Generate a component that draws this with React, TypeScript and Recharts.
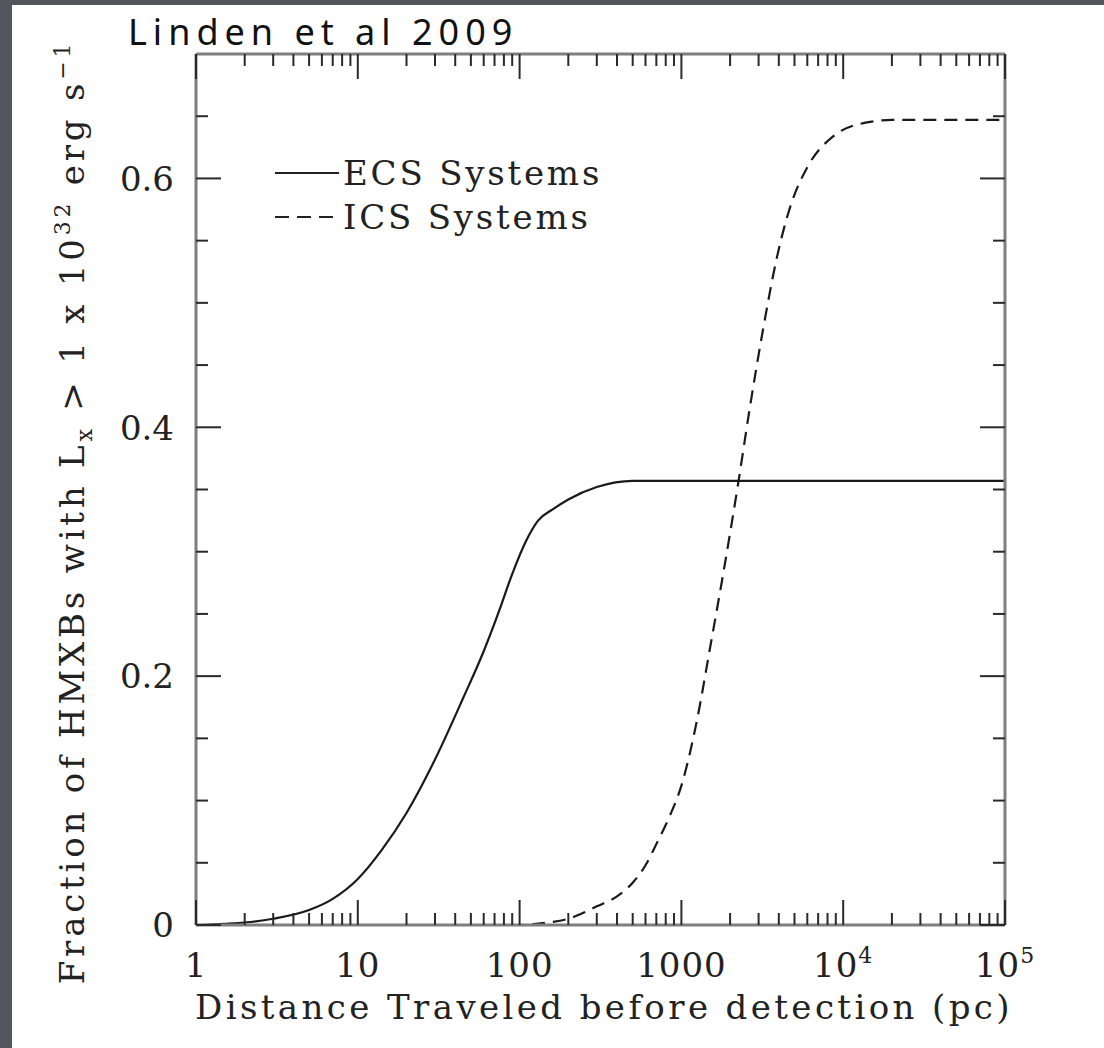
import { LineChart, Line, XAxis, YAxis, Legend } from 'recharts';

// ECS systems (solid)
const ecsDistance = [1, 1.5, 2, 3, 5, 7, 10, 14, 20, 30, 45, 60, 75, 90, 110, 130, 160, 200, 300, 500, 1000, 100000];
const ecsFraction = [0, 0.001, 0.002, 0.005, 0.012, 0.021, 0.037, 0.06, 0.09, 0.133, 0.183, 0.22, 0.253, 0.282, 0.309, 0.325, 0.334, 0.342, 0.352, 0.357, 0.357, 0.357];

// ICS systems (dashed)
const icsDistance = [1, 100, 150, 200, 250, 300, 400, 500, 600, 700, 850, 1000, 1250, 1500, 1800, 2250, 2650, 3200, 3900, 4700, 6000, 8700, 14000, 20000, 100000];
const icsFraction = [0, 0, 0.002, 0.005, 0.01, 0.015, 0.023, 0.034, 0.048, 0.065, 0.088, 0.112, 0.165, 0.222, 0.28, 0.356, 0.416, 0.479, 0.537, 0.577, 0.609, 0.634, 0.645, 0.647, 0.647];

const seriesNames = ['ECS Systems', 'ICS Systems'];

const xMajorTicks = [1, 10, 100, 1000, 10000, 100000];
const xMajorLabels = ['1', '10', '100', '1000', '10^4', '10^5'];
const xMinorSteps = [2, 3, 4, 5, 6, 7, 8, 9];

const yTicks = [0, 0.05, 0.1, 0.15, 0.2, 0.25, 0.3, 0.35, 0.4, 0.45, 0.5, 0.55, 0.6, 0.65];
const yMajorLabels = ['0', '0.2', '0.4', '0.6'];

const ecsData = ecsDistance.map((d, i) => ({ x: d, y: ecsFraction[i] }));
const icsData = icsDistance.map((d, i) => ({ x: d, y: icsFraction[i] }));

const xTicks: number[] = [];
xMajorTicks.forEach((t, i) => {
  xTicks.push(t);
  if (i < xMajorTicks.length - 1) xMinorSteps.forEach((m) => xTicks.push(t * m));
});
xTicks.sort((a, b) => a - b);

const SERIF = '"DejaVu Serif", "Liberation Serif", serif';
const TICK = '#2a2a2a';
const FRAME = '#7f7f7f';

const isDecade = (v: number) => Math.abs(Math.log10(v) - Math.round(Math.log10(v))) < 1e-9;
const isYMajor = (v: number) => Math.abs(v * 5 - Math.round(v * 5)) < 1e-9;

function xLabelFor(v: number) {
  const idx = xMajorTicks.findIndex((t) => Math.abs(t - v) < 1e-6);
  return idx >= 0 ? xMajorLabels[idx] : null;
}

function BottomTick(props: any) {
  const { x, y, payload } = props;
  const v = payload.value;
  const major = isDecade(v);
  const label = major ? xLabelFor(v) : null;
  const [base, exp] = label ? label.split('^') : [null, null];
  return (
    <g>
      <line x1={x} x2={x} y1={y} y2={y - (major ? 25 : 12)} stroke={TICK} strokeWidth={2} />
      {base && (
        <text x={x} y={y + 52} textAnchor="middle" fontFamily={SERIF} fontSize={34} letterSpacing={1} fill="#222">
          {base}
          {exp && (
            <tspan dy={-14} fontSize={22}>
              {exp}
            </tspan>
          )}
        </text>
      )}
    </g>
  );
}

function TopTick(props: any) {
  const { x, y, payload } = props;
  const major = isDecade(payload.value);
  return <line x1={x} x2={x} y1={y} y2={y + (major ? 25 : 12)} stroke={TICK} strokeWidth={2} />;
}

function LeftTick(props: any) {
  const { x, y, payload } = props;
  const v = payload.value;
  const major = isYMajor(v);
  const label = major ? yMajorLabels[Math.round(v * 5)] : null;
  return (
    <g>
      <line x1={x} x2={x + (major ? 25 : 12)} y1={y} y2={y} stroke={TICK} strokeWidth={2} />
      {label && (
        <text x={x - 22} y={y} dy="0.36em" textAnchor="end" fontFamily={SERIF} fontSize={34} fill="#222">
          {label}
        </text>
      )}
    </g>
  );
}

function RightTick(props: any) {
  const { x, y, payload } = props;
  const major = isYMajor(payload.value);
  return <line x1={x} x2={x - (major ? 25 : 12)} y1={y} y2={y} stroke={TICK} strokeWidth={2} />;
}

function YTitle() {
  return (
    <text
      x={84}
      y={512}
      transform="rotate(-90, 84, 512)"
      textAnchor="middle"
      fontFamily={SERIF}
      fontSize={34}
      letterSpacing={3.8}
      fill="#222"
    >
      Fraction of HMXBs with L
      <tspan dy={8} fontSize={22}>x</tspan>
      <tspan dy={-8}> {'>'} 1 x 10</tspan>
      <tspan dy={-14} fontSize={22}>32</tspan>
      <tspan dy={14}> erg s</tspan>
      <tspan dy={-14} fontSize={22}>−1</tspan>
    </text>
  );
}

function XTitle() {
  return (
    <text x={604} y={1019} textAnchor="middle" fontFamily={SERIF} fontSize={34} letterSpacing={3.4} fill="#222">
      Distance Traveled before detection (pc)
    </text>
  );
}

function LegendBox(props: any) {
  const items = props.payload || [];
  return (
    <div style={{ fontFamily: SERIF, fontSize: 34, letterSpacing: 2.8, color: '#222' }}>
      {items.map((it: any, i: number) => (
        <div key={i} style={{ display: 'flex', alignItems: 'center', height: 44 }}>
          <svg width={70} height={20} style={{ marginRight: 2 }}>
            <line
              x1={4}
              x2={68}
              y1={10}
              y2={10}
              stroke="#222"
              strokeWidth={2}
              strokeDasharray={i === 1 ? '14 8' : undefined}
            />
          </svg>
          <span>{it.value}</span>
        </div>
      ))}
    </div>
  );
}

export default function App() {
  return (
    <div style={{ position: 'absolute', left: 0, top: 0, width: 1104, height: 1048, background: '#52555c' }}>
      <div style={{ position: 'absolute', left: 12, top: 5, width: 1092, height: 1043, background: '#fff' }} />
      <div style={{ position: 'absolute', left: 0, top: 0 }}>
        <LineChart width={1104} height={1048} margin={{ top: 44, right: 89, bottom: 63, left: 136 }}>
          <XAxis
            dataKey="x"
            type="number"
            scale="log"
            domain={[1, 100000]}
            allowDataOverflow
            ticks={xTicks}
            interval={0}
            tickSize={0}
            tickMargin={0}
            height={60}
            axisLine={{ stroke: FRAME, strokeWidth: 3 }}
            tickLine={false}
            tick={<BottomTick />}
            label={{ content: <XTitle /> }}
          />
          <XAxis
            xAxisId="top"
            orientation="top"
            dataKey="x"
            type="number"
            scale="log"
            domain={[1, 100000]}
            allowDataOverflow
            ticks={xTicks}
            interval={0}
            tickSize={0}
            tickMargin={0}
            height={10}
            axisLine={{ stroke: FRAME, strokeWidth: 3 }}
            tickLine={false}
            tick={<TopTick />}
          />
          <YAxis
            type="number"
            domain={[0, 0.7]}
            allowDataOverflow
            ticks={yTicks}
            interval={0}
            tickSize={0}
            tickMargin={0}
            width={60}
            axisLine={{ stroke: FRAME, strokeWidth: 3 }}
            tickLine={false}
            tick={<LeftTick />}
            label={{ content: <YTitle /> }}
          />
          <YAxis
            yAxisId="right"
            orientation="right"
            type="number"
            domain={[0, 0.7]}
            allowDataOverflow
            ticks={yTicks}
            interval={0}
            tickSize={0}
            tickMargin={0}
            width={10}
            axisLine={{ stroke: FRAME, strokeWidth: 3 }}
            tickLine={false}
            tick={<RightTick />}
          />
          <Legend
            layout="horizontal"
            verticalAlign="middle"
            align="center"
            content={<LegendBox />}
            wrapperStyle={{ left: 271, top: 151, width: 420 }}
          />
          <Line
            data={ecsData}
            dataKey="y"
            name={seriesNames[0]}
            type="monotone"
            stroke="#1a1a1a"
            strokeWidth={2.2}
            dot={false}
            isAnimationActive={false}
          />
          <Line
            data={icsData}
            dataKey="y"
            name={seriesNames[1]}
            type="monotone"
            stroke="#1a1a1a"
            strokeWidth={2.2}
            strokeDasharray="13 8"
            dot={false}
            isAnimationActive={false}
          />
        </LineChart>
      </div>
      <div
        style={{
          position: 'absolute',
          left: 128,
          top: 14,
          fontFamily: '"Comic Sans MS", "Noto Sans", sans-serif',
          fontSize: 36,
          lineHeight: '35px',
          letterSpacing: 6,
          color: '#111',
        }}
      >
        Linden et al 2009
      </div>
    </div>
  );
}
